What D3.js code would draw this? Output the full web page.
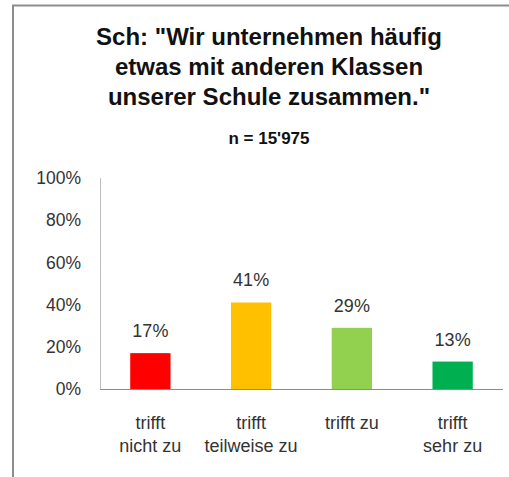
<!DOCTYPE html>
<html>
<head>
<meta charset="utf-8">
<script src="https://cdn.jsdelivr.net/npm/d3@7"></script>
<style>
  body { margin: 0; background: #fff; }
  svg text { font-family: "Liberation Sans", Arial, sans-serif; }
</style>
</head>
<body>
<svg id="chart" width="509" height="477"></svg>
<script>
const titleLines = ['Sch: "Wir unternehmen häufig', 'etwas mit anderen Klassen', 'unserer Schule zusammen."'];
const subtitle = "n = 15'975";
const categories = ["trifft nicht zu", "trifft teilweise zu", "trifft zu", "trifft sehr zu"];
const categoryLines = [["trifft", "nicht zu"], ["trifft", "teilweise zu"], ["trifft zu"], ["trifft", "sehr zu"]];
const values = [0.17, 0.41, 0.29, 0.13];
const barColors = ["#FF0000", "#FFC000", "#92D050", "#00B050"];
const yTicks = [0, 0.2, 0.4, 0.6, 0.8, 1];

const svg = d3.select("#chart");
const labelColor = "#333";

// frame (only top and left edge fall inside the picture)
svg.append("path")
    .attr("d", "M13,477V5.5H509")
    .attr("fill", "none")
    .attr("stroke", "#8c8c8c")
    .attr("stroke-width", 2);

// title
const titleX = 269;
svg.append("text")
    .attr("text-anchor", "middle")
    .attr("font-weight", "bold")
    .attr("font-size", 24)
    .attr("fill", "#111")
    .selectAll("tspan")
    .data(titleLines)
    .enter().append("tspan")
    .attr("x", titleX)
    .attr("y", (d, i) => 45 + i * 30)
    .text(d => d);

svg.append("text")
    .attr("x", titleX)
    .attr("y", 144)
    .attr("text-anchor", "middle")
    .attr("font-weight", "bold")
    .attr("font-size", 17)
    .attr("fill", "#111")
    .text(subtitle);

const x = d3.scaleBand().domain(categories).range([100, 503]).padding(0);
const y = d3.scaleLinear().domain([0, 1]).range([389, 178]);
const barWidth = x.bandwidth() * 0.4;
const pct = d3.format(".0%");

// y axis labels
svg.append("g")
    .selectAll("text")
    .data(yTicks)
    .enter().append("text")
    .attr("x", 81)
    .attr("y", d => y(d))
    .attr("dy", "0.35em")
    .attr("text-anchor", "end")
    .attr("font-size", 17.5)
    .attr("fill", labelColor)
    .text(d => pct(d));

// y axis line
svg.append("line")
    .attr("x1", 100.5).attr("x2", 100.5)
    .attr("y1", y(1)).attr("y2", y(0))
    .attr("stroke", "#bdbdbd");

// bars
svg.append("g")
    .selectAll("rect")
    .data(values)
    .enter().append("rect")
    .attr("x", (d, i) => x(categories[i]) + (x.bandwidth() - barWidth) / 2)
    .attr("y", d => y(d))
    .attr("width", barWidth)
    .attr("height", d => y(0) - y(d))
    .attr("fill", (d, i) => barColors[i]);

// x axis line
svg.append("line")
    .attr("x1", 100).attr("x2", 503)
    .attr("y1", y(0) + 0.5).attr("y2", y(0) + 0.5)
    .attr("stroke", "#8c8c8c");

// data labels
svg.append("g")
    .selectAll("text")
    .data(values)
    .enter().append("text")
    .attr("x", (d, i) => x(categories[i]) + x.bandwidth() / 2)
    .attr("y", d => y(d) - 16)
    .attr("text-anchor", "middle")
    .attr("font-size", 18)
    .attr("fill", labelColor)
    .text(d => pct(d));

// category labels
svg.append("g")
    .selectAll("text")
    .data(categoryLines)
    .enter().append("text")
    .attr("text-anchor", "middle")
    .attr("font-size", 18)
    .attr("fill", labelColor)
    .each(function(lines, i) {
        d3.select(this).selectAll("tspan")
            .data(lines)
            .enter().append("tspan")
            .attr("x", x(categories[i]) + x.bandwidth() / 2)
            .attr("y", (d, j) => 429 + j * 22.5)
            .text(d => d);
    });
</script>
</body>
</html>
